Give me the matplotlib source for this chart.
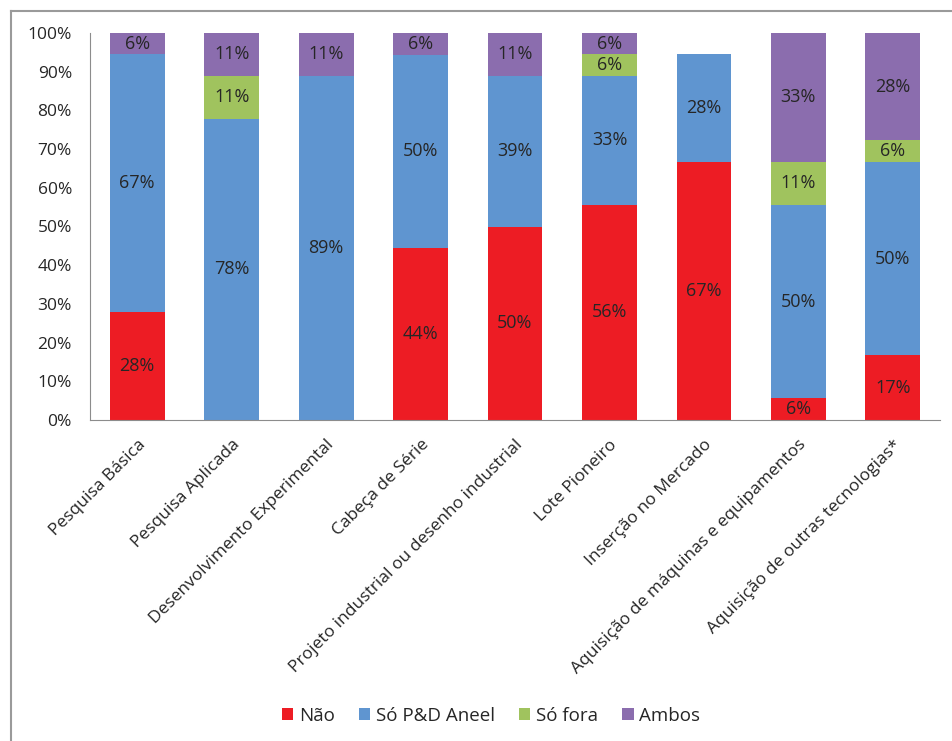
import matplotlib

matplotlib.use("Agg")
import matplotlib.pyplot as plt
from matplotlib.lines import Line2D
import numpy as np

categories = [
    "Pesquisa Básica",
    "Pesquisa Aplicada",
    "Desenvolvimento Experimental",
    "Cabeça de Série",
    "Projeto industrial ou desenho industrial",
    "Lote Pioneiro",
    "Inserção no Mercado",
    "Aquisição de máquinas e equipamentos",
    "Aquisição de outras tecnologias*",
]
nao = [27.8, 0, 0, 44.4, 50.0, 55.6, 66.7, 5.6, 16.7]
so_pd = [66.7, 77.8, 88.9, 50.0, 38.9, 33.3, 27.8, 50.0, 50.0]
so_fora = [0, 11.1, 0, 0, 0, 5.6, 0, 11.1, 5.6]
ambos = [5.5, 11.1, 11.1, 5.6, 11.1, 5.5, 0, 33.3, 27.7]

series = [
    ("Não", nao, "#ED1C24"),
    ("Só P&D Aneel", so_pd, "#5F95D0"),
    ("Só fora", so_fora, "#A0C35E"),
    ("Ambos", ambos, "#8B6DAE"),
]
yticks = [0, 10, 20, 30, 40, 50, 60, 70, 80, 90, 100]

plt.rcParams["font.family"] = ["Open Sans", "DejaVu Sans"]
text_color = "#262626"

fig = plt.figure(figsize=(9.52, 7.41), dpi=100)
ax = fig.add_axes([90 / 952, 1 - 420 / 741, 850 / 952, 387 / 741])

x = np.arange(len(categories))
bottom = np.zeros(len(categories))
for name, vals, color in series:
    vals = np.array(vals, dtype=float)
    ax.bar(x, vals, width=0.58, bottom=bottom, color=color, label=name, linewidth=0)
    for xi, b, v in zip(x, bottom, vals):
        if v > 0:
            ax.text(xi, b + v / 2, f"{v:.0f}%", ha="center", va="center",
                    fontsize=13, color=text_color)
    bottom += vals

ax.set_xlim(-0.5, len(categories) - 0.5)
ax.set_ylim(0, 100)
ax.set_yticks(yticks)
ax.set_yticklabels([f"{t}%" for t in yticks], fontsize=12.5, color=text_color)
ax.set_xticks(x)
ax.set_xticklabels(categories, rotation=45, ha="right", rotation_mode="anchor",
                   fontsize=12.5, color=text_color)
ax.tick_params(axis="both", length=0)
ax.tick_params(axis="y", pad=13)
ax.tick_params(axis="x", pad=12)
ax.spines[["top", "right"]].set_visible(False)
ax.spines[["left", "bottom"]].set_color("#8c8c8c")

ax.legend(loc="center", bbox_to_anchor=(491 / 952, 1 - 716 / 741),
          bbox_transform=fig.transFigure, ncol=4, frameon=False,
          fontsize=13.5, handlelength=0.6, handleheight=0.6,
          handletextpad=0.3, columnspacing=1.3, labelcolor=text_color)

# outer chart frame (cut off at right and bottom)
fig.add_artist(Line2D([11 / 952, 11 / 952], [0, 1 - 11 / 741],
                      transform=fig.transFigure, color="#9a9a9a", lw=1.5))
fig.add_artist(Line2D([11 / 952, 1], [1 - 11 / 741, 1 - 11 / 741],
                      transform=fig.transFigure, color="#9a9a9a", lw=1.5))

fig.savefig("out.png", dpi=100)
